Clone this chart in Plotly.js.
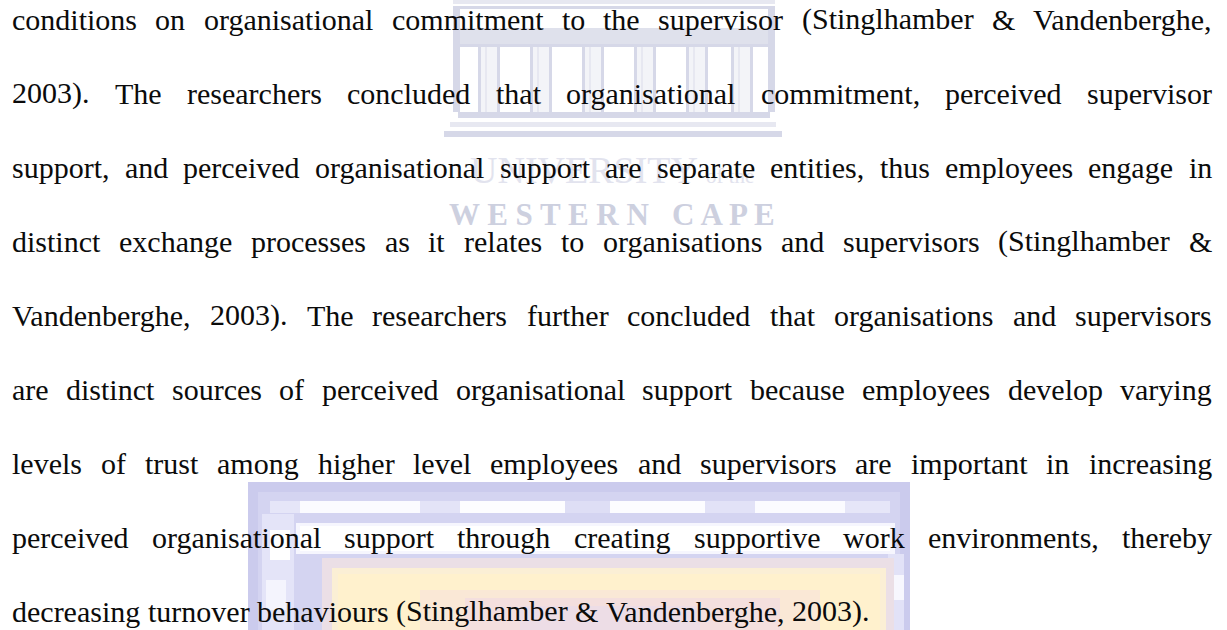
<!DOCTYPE html>
<html><head><meta charset="utf-8">
<script src="https://cdn.plot.ly/plotly-3.0.1.min.js"></script>
<style>html,body{margin:0;padding:0;background:#fff;overflow:hidden}#chart{width:1227px;height:630px}</style>
</head><body><div id="chart"></div>
<script>
// ---- content ----
const lines = [
  "conditions on organisational commitment to the supervisor (Stinglhamber & Vandenberghe,",
  "2003). The researchers concluded that organisational commitment, perceived supervisor",
  "support, and perceived organisational support are separate entities, thus employees engage in",
  "distinct exchange processes as it relates to organisations and supervisors (Stinglhamber &",
  "Vandenberghe, 2003). The researchers further concluded that organisations and supervisors",
  "are distinct sources of perceived organisational support because employees develop varying",
  "levels of trust among higher level employees and supervisors are important in increasing",
  "perceived organisational support through creating supportive work environments, thereby",
  "decreasing turnover behaviours (Stinglhamber & Vandenberghe, 2003)."
];
const justified = [true, true, true, true, true, true, true, true, false];
const lineIndex = [0, 1, 2, 3, 4, 5, 6, 7, 8];
const watermarkLine1 = "UNIVERSITY <span style='font-size:55%'>of the</span>";
const watermarkLine2 = "W E S T E R N   C A P E";

// ---- page geometry / style ----
const W = 1227, H = 630;
const LEFT = 12, RIGHT = 1212;
const FIRST_Y = 19, GAP = 74;
const FONT = "Liberation Serif";
const SIZE = 30;

function measure(txt) {
  const c = measure.c || (measure.c = document.createElement("canvas").getContext("2d"));
  c.font = SIZE + "px '" + FONT + "'";
  return c.measureText(txt).width;
}

function build() {
  const annotations = [];
  // watermark texts (drawn first, under the body text)
  annotations.push({x: 612, y: 170, xref: "x", yref: "y", text: watermarkLine1, showarrow: false,
    xanchor: "center", yanchor: "middle", font: {family: FONT, size: 38, color: "#e2e3ee"}});
  annotations.push({x: 612, y: 214, xref: "x", yref: "y", text: "<b>" + watermarkLine2 + "</b>", showarrow: false,
    xanchor: "center", yanchor: "middle", font: {family: FONT, size: 31, color: "#cdd0df"}});

  lines.forEach((ln, i) => {
    const words = ln.split(" ");
    const widths = words.map(measure);
    const total = widths.reduce((a, b) => a + b, 0);
    const space = justified[i] ? (RIGHT - LEFT - total) / (words.length - 1) : measure(" ");
    let x = LEFT;
    const y = FIRST_Y + GAP * lineIndex[i];
    words.forEach((w, k) => {
      annotations.push({
        x: x - 2, y: y, xref: "x", yref: "y", text: w, showarrow: false,
        xanchor: "left", yanchor: "middle",
        font: {family: FONT, size: SIZE, color: "#0b0b0b"}
      });
      x += widths[k] + space;
    });
  });

  const lav = "#d6d8e8", lav2 = "#e7e8f1";
  const shapes = [];
  const R = (x0, y0, x1, y1, c) => shapes.push({type: "rect", xref: "x", yref: "y", x0, y0, x1, y1,
    fillcolor: c, line: {width: 0}, layer: "below"});
  // building watermark
  R(453, 0, 775, 4, lav2);
  R(453, 6, 775, 9, lav);
  R(453, 28, 775, 44, "#dfe1ec");
  R(453, 44, 775, 47, lav);
  R(453, 9, 460, 112, lav);
  R(768, 9, 775, 112, lav);
  const cols = [478, 530, 582, 634, 686, 731];
  cols.forEach(c => {
    R(c, 47, c + 22, 112, "#f3f4f8");
    R(c, 47, c + 3, 112, lav);
    R(c + 7, 47, c + 9, 112, lav2);
    R(c + 19, 47, c + 22, 112, lav);
  });
  R(458, 112, 770, 118, lav);
  R(450, 122, 776, 127, lav2);
  R(444, 131, 782, 137, lav);

  // pixelated block near the bottom
  R(248, 482, 910, 630, "#cbcbed");
  R(258, 492, 900, 630, "#d4d4f1");
  // top broken white row
  const topRow = [[270, 300, "#e6e6f8"], [300, 420, "#fbfbff"], [420, 460, "#e3e3f7"], [460, 565, "#fdfdff"],
    [565, 610, "#dedef5"], [610, 705, "#fcfcff"], [705, 755, "#e2e2f7"], [755, 845, "#fbfbff"], [845, 890, "#e6e6f8"]];
  topRow.forEach(s => R(s[0], 501, s[1], 513, s[2]));
  // row behind the text line
  R(296, 523, 895, 554, "#f6f6fe");
  R(300, 526, 890, 551, "#ffffff");
  // side columns with light pixels
  R(262, 514, 294, 630, "#e4e4f8");
  R(270, 530, 290, 560, "#ffffff");
  R(266, 580, 286, 610, "#f4f4fd");
  R(888, 554, 904, 630, "#e2e2f7");
  R(892, 575, 904, 600, "#f7f7fe");
  // warm inner box
  R(322, 558, 894, 630, "#ebdfe6");
  R(332, 568, 886, 630, "#fbefd5");
  R(338, 574, 880, 630, "#fff1cd");
  R(420, 590, 820, 630, "#fae8d6");
  R(465, 598, 780, 630, "#f4dfde");
  R(520, 606, 700, 630, "#eddde6");

  const layout = {
    width: W, height: H, margin: {l: 0, r: 0, t: 0, b: 0},
    paper_bgcolor: "#ffffff", plot_bgcolor: "#ffffff", showlegend: false,
    xaxis: {range: [0, W], visible: false, fixedrange: true},
    yaxis: {range: [H, 0], visible: false, fixedrange: true},
    annotations: annotations, shapes: shapes
  };
  Plotly.newPlot("chart", [{x: [], y: [], type: "scatter", mode: "markers"}], layout,
    {displayModeBar: false, staticPlot: true});
}
(document.fonts && document.fonts.load ? document.fonts.load(SIZE + "px '" + FONT + "'") : Promise.resolve()).then(build, build);
</script>
</body></html>
